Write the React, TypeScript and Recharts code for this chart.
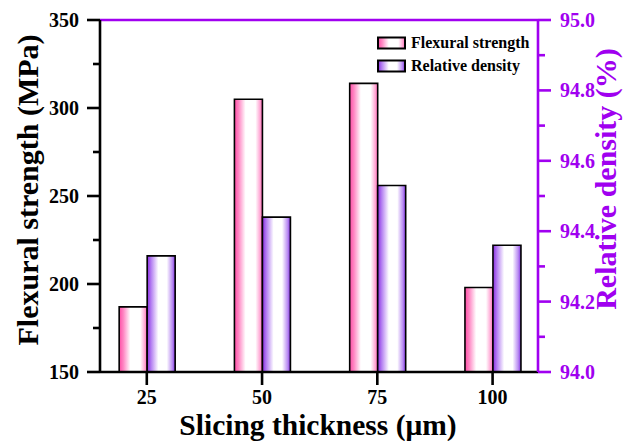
import React from 'react';
import { ComposedChart, Bar, XAxis, YAxis, Legend } from 'recharts';

const thickness = [25, 50, 75, 100];
const flexuralStrength = [187, 305, 314, 198];
const relativeDensity = [94.33, 94.44, 94.53, 94.36];

const xTicks = [25, 50, 75, 100];
const leftTicks = [150, 175, 200, 225, 250, 275, 300, 325, 350];
const rightTicks = [94.0, 94.1, 94.2, 94.3, 94.4, 94.5, 94.6, 94.7, 94.8, 94.9, 95.0];
const seriesNames = ['Flexural strength', 'Relative density'];

const data = thickness.map((t, i) => ({
  t,
  flex: flexuralStrength[i],
  dens: relativeDensity[i],
}));

const FONT = '"Liberation Serif", "Times New Roman", serif';
const PURPLE = '#a000f0';
const LW = 2.6;
const TICK_SIZE = 13;
const MINOR = 7;
const L_MARGIN = 8;
const R_MARGIN = 9;
const X_MARGIN = 5;

const LeftTick = (p: any) => {
  const { x, y, payload, index } = p;
  const axisX = Number(x) + TICK_SIZE + L_MARGIN;
  const major = index % 2 === 0;
  return (
    <g>
      <line x1={axisX} y1={y} x2={axisX - (major ? TICK_SIZE : MINOR)} y2={y} style={{ stroke: '#000', strokeWidth: LW }} />
      {major && (
        <text x={x} y={y} dy="0.35em" textAnchor="end" fontFamily={FONT} fontWeight="bold" fontSize={20} fill="#000">
          {payload.value}
        </text>
      )}
    </g>
  );
};

const RightTick = (p: any) => {
  const { x, y, payload, index } = p;
  const axisX = Number(x) - TICK_SIZE - R_MARGIN;
  const major = index % 2 === 0;
  return (
    <g>
      <line x1={axisX} y1={y} x2={axisX + (major ? TICK_SIZE : MINOR)} y2={y} style={{ stroke: PURPLE, strokeWidth: LW }} />
      {major && (
        <text x={x} y={y} dy="0.35em" textAnchor="start" fontFamily={FONT} fontWeight="bold" fontSize={20} fill={PURPLE}>
          {Number(payload.value).toFixed(1)}
        </text>
      )}
    </g>
  );
};

const LeftTitle = (p: any) => {
  const { x, y, height } = p.viewBox;
  const tx = x + 8;
  const ty = y + height / 2 - 6;
  return (
    <text x={tx} y={ty} transform={`rotate(-90, ${tx}, ${ty})`} textAnchor="middle" fontFamily={FONT} fontWeight="bold" fontSize={30} fill="#000">
      Flexural strength (MPa)
    </text>
  );
};

const RightTitle = (p: any) => {
  const { x, y, height } = p.viewBox;
  const tx = x + 78;
  const ty = y + height / 2 - 17;
  return (
    <text x={tx} y={ty} transform={`rotate(-90, ${tx}, ${ty})`} textAnchor="middle" fontFamily={FONT} fontWeight="bold" fontSize={30} fill={PURPLE}>
      Relative density (%)
    </text>
  );
};

const BottomTitle = (p: any) => {
  const { x, y, width } = p.viewBox;
  return (
    <text x={x + width / 2 - 1} y={y + 63} textAnchor="middle" fontFamily={FONT} fontWeight="bold" fontSize={29.5} fill="#000">
      Slicing thickness (μm)
    </text>
  );
};

const gradIds = ['gPink', 'gPurple'];

const renderLegend = () => (
  <div style={{ fontFamily: FONT, fontWeight: 'bold', fontSize: 16, color: '#000' }}>
    {seriesNames.map((n, i) => (
      <div key={n} style={{ display: 'flex', alignItems: 'center', height: 23 }}>
        <svg width={30} height={14} style={{ display: 'block' }}>
          <rect x={1} y={1.5} width={27} height={11} fill={`url(#${gradIds[i]})`} stroke="#000" strokeWidth={2} />
        </svg>
        <span style={{ marginLeft: 4, lineHeight: '16px', whiteSpace: 'nowrap' }}>{n}</span>
      </div>
    ))}
  </div>
);

export default function App() {
  return (
    <div style={{ position: 'absolute', left: 0, top: 0, background: '#fff' }}>
      <ComposedChart
        width={631}
        height={441}
        data={data}
        margin={{ top: 19, right: 33, bottom: 9, left: 30 }}
        barGap={0}
      >
        <defs>
          <linearGradient id="gPink" x1="0" y1="0" x2="1" y2="0">
            <stop offset="0%" stopColor="#ff4da6" />
            <stop offset="15%" stopColor="#ff86c3" />
            <stop offset="40%" stopColor="#ffffff" />
            <stop offset="75%" stopColor="#ffffff" />
            <stop offset="92%" stopColor="#ffa3d2" />
            <stop offset="100%" stopColor="#ff62b2" />
          </linearGradient>
          <linearGradient id="gPurple" x1="0" y1="0" x2="1" y2="0">
            <stop offset="0%" stopColor="#8a2be2" />
            <stop offset="15%" stopColor="#b683f2" />
            <stop offset="40%" stopColor="#ffffff" />
            <stop offset="70%" stopColor="#ffffff" />
            <stop offset="90%" stopColor="#b98cf2" />
            <stop offset="100%" stopColor="#7e2fe0" />
          </linearGradient>
        </defs>
        <XAxis
          dataKey="t"
          type="number"
          domain={[14.85, 109.85]}
          allowDataOverflow
          ticks={xTicks}
          interval={0}
          height={60}
          tickSize={TICK_SIZE}
          tickMargin={X_MARGIN}
          stroke="#000"
          tickLine={{ stroke: '#000', strokeWidth: LW }}
          axisLine={{ stroke: '#000', strokeWidth: LW }}
          tick={{ fontFamily: FONT, fontWeight: 'bold', fontSize: 20, fill: '#000' }}
          label={<BottomTitle />}
        />
        <XAxis
          xAxisId="top"
          dataKey="t"
          type="number"
          orientation="top"
          domain={[14.85, 109.85]}
          allowDataOverflow
          height={1}
          tick={false}
          tickLine={false}
          axisLine={{ stroke: PURPLE, strokeWidth: LW }}
        />
        <YAxis
          yAxisId="left"
          domain={[150, 350]}
          ticks={leftTicks}
          interval={0}
          allowDataOverflow
          width={70}
          tickSize={TICK_SIZE}
          tickMargin={L_MARGIN}
          tickLine={false}
          axisLine={{ stroke: '#000', strokeWidth: LW }}
          tick={(p: any) => <LeftTick {...p} />}
          label={<LeftTitle />}
        />
        <YAxis
          yAxisId="right"
          orientation="right"
          domain={[94, 95]}
          ticks={rightTicks}
          interval={0}
          allowDataOverflow
          width={60}
          tickSize={TICK_SIZE}
          tickMargin={R_MARGIN}
          tickLine={false}
          axisLine={{ stroke: PURPLE, strokeWidth: LW }}
          tick={(p: any) => <RightTick {...p} />}
          label={<RightTitle />}
        />
        <Legend
          content={renderLegend}
          layout="horizontal"
          verticalAlign="middle"
          wrapperStyle={{ left: 377, top: 31, width: 'auto' }}
        />
        <Bar
          yAxisId="left"
          dataKey="flex"
          name={seriesNames[0]}
          barSize={28}
          fill="url(#gPink)"
          stroke="#000"
          strokeWidth={1.6}
          isAnimationActive={false}
        />
        <Bar
          yAxisId="right"
          dataKey="dens"
          name={seriesNames[1]}
          barSize={28}
          fill="url(#gPurple)"
          stroke="#000"
          strokeWidth={1.6}
          isAnimationActive={false}
        />
      </ComposedChart>
    </div>
  );
}
